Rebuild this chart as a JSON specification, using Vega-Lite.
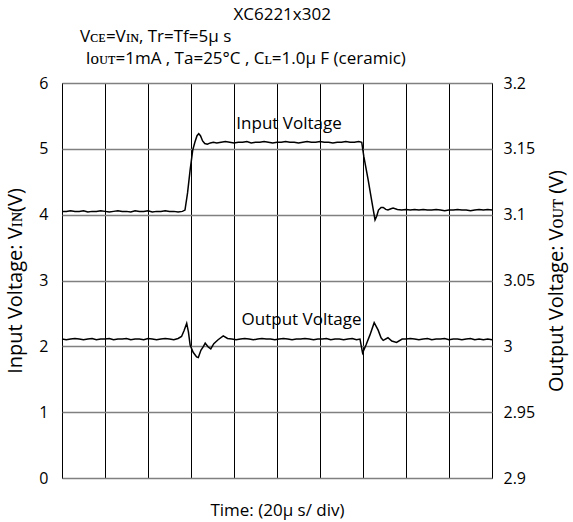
{
  "$schema": "https://vega.github.io/schema/vega-lite/v6.json",
  "width": 430,
  "height": 395,
  "autosize": {"type": "none"},
  "padding": {"left": 62, "top": 83, "right": 81, "bottom": 44},
  "background": "white",
  "config": {
    "font": "Open Sans",
    "view": {"stroke": "black", "strokeWidth": 1},
    "axis": {"labelFont": "Open Sans", "titleFont": "Open Sans", "labelFontSize": 16, "titleFontSize": 20, "titleFontWeight": "normal", "labelColor": "black", "titleColor": "black"}
  },
  "datasets": {
    "input": [
      {"t": 0.00, "v": 4.05}, {"t": 0.10, "v": 4.05}, {"t": 0.20, "v": 4.06}, {"t": 0.30, "v": 4.05}, {"t": 0.40, "v": 4.05},
      {"t": 0.50, "v": 4.06}, {"t": 0.60, "v": 4.04}, {"t": 0.70, "v": 4.05}, {"t": 0.80, "v": 4.05}, {"t": 0.90, "v": 4.06},
      {"t": 1.00, "v": 4.05}, {"t": 1.10, "v": 4.04}, {"t": 1.20, "v": 4.05}, {"t": 1.30, "v": 4.06}, {"t": 1.40, "v": 4.05},
      {"t": 1.50, "v": 4.05}, {"t": 1.60, "v": 4.04}, {"t": 1.70, "v": 4.06}, {"t": 1.80, "v": 4.05}, {"t": 1.90, "v": 4.05},
      {"t": 2.00, "v": 4.06}, {"t": 2.10, "v": 4.04}, {"t": 2.20, "v": 4.05}, {"t": 2.30, "v": 4.05}, {"t": 2.40, "v": 4.06},
      {"t": 2.50, "v": 4.05}, {"t": 2.60, "v": 4.05}, {"t": 2.70, "v": 4.04}, {"t": 2.80, "v": 4.05}, {"t": 2.86, "v": 4.07},
      {"t": 2.92, "v": 4.33}, {"t": 2.98, "v": 4.68}, {"t": 3.04, "v": 4.98}, {"t": 3.09, "v": 5.10}, {"t": 3.14, "v": 5.20},
      {"t": 3.18, "v": 5.23}, {"t": 3.22, "v": 5.20}, {"t": 3.27, "v": 5.12}, {"t": 3.32, "v": 5.08}, {"t": 3.38, "v": 5.07},
      {"t": 3.45, "v": 5.09}, {"t": 3.52, "v": 5.10}, {"t": 3.60, "v": 5.09}, {"t": 3.70, "v": 5.10}, {"t": 3.80, "v": 5.11},
      {"t": 3.90, "v": 5.10}, {"t": 4.00, "v": 5.09}, {"t": 4.10, "v": 5.10}, {"t": 4.20, "v": 5.10}, {"t": 4.30, "v": 5.11},
      {"t": 4.40, "v": 5.09}, {"t": 4.50, "v": 5.10}, {"t": 4.60, "v": 5.10}, {"t": 4.70, "v": 5.11}, {"t": 4.80, "v": 5.10},
      {"t": 4.90, "v": 5.09}, {"t": 5.00, "v": 5.10}, {"t": 5.10, "v": 5.10}, {"t": 5.20, "v": 5.11}, {"t": 5.30, "v": 5.10},
      {"t": 5.40, "v": 5.10}, {"t": 5.50, "v": 5.09}, {"t": 5.60, "v": 5.10}, {"t": 5.70, "v": 5.11}, {"t": 5.80, "v": 5.10},
      {"t": 5.90, "v": 5.10}, {"t": 6.00, "v": 5.11}, {"t": 6.10, "v": 5.10}, {"t": 6.20, "v": 5.10}, {"t": 6.30, "v": 5.09},
      {"t": 6.40, "v": 5.10}, {"t": 6.50, "v": 5.10}, {"t": 6.60, "v": 5.11}, {"t": 6.70, "v": 5.10}, {"t": 6.80, "v": 5.10},
      {"t": 6.90, "v": 5.11}, {"t": 6.97, "v": 5.10}, {"t": 7.02, "v": 4.88}, {"t": 7.12, "v": 4.53}, {"t": 7.20, "v": 4.22},
      {"t": 7.24, "v": 4.07}, {"t": 7.28, "v": 3.92}, {"t": 7.32, "v": 3.98}, {"t": 7.36, "v": 4.07}, {"t": 7.42, "v": 4.11},
      {"t": 7.47, "v": 4.11}, {"t": 7.53, "v": 4.08}, {"t": 7.58, "v": 4.07}, {"t": 7.65, "v": 4.09}, {"t": 7.70, "v": 4.10},
      {"t": 7.80, "v": 4.08}, {"t": 7.90, "v": 4.07}, {"t": 8.00, "v": 4.08}, {"t": 8.10, "v": 4.07}, {"t": 8.20, "v": 4.08},
      {"t": 8.30, "v": 4.07}, {"t": 8.40, "v": 4.08}, {"t": 8.50, "v": 4.07}, {"t": 8.60, "v": 4.07}, {"t": 8.70, "v": 4.08},
      {"t": 8.80, "v": 4.07}, {"t": 8.90, "v": 4.06}, {"t": 9.00, "v": 4.07}, {"t": 9.10, "v": 4.07}, {"t": 9.20, "v": 4.08},
      {"t": 9.30, "v": 4.07}, {"t": 9.40, "v": 4.07}, {"t": 9.50, "v": 4.06}, {"t": 9.60, "v": 4.07}, {"t": 9.70, "v": 4.08},
      {"t": 9.80, "v": 4.07}, {"t": 9.90, "v": 4.08}, {"t": 10.00, "v": 4.07}
    ],
    "output": [
      {"t": 0.00, "v": 3.0055}, {"t": 0.10, "v": 3.0050}, {"t": 0.20, "v": 3.0055}, {"t": 0.30, "v": 3.0060}, {"t": 0.40, "v": 3.0055},
      {"t": 0.50, "v": 3.0050}, {"t": 0.60, "v": 3.0055}, {"t": 0.70, "v": 3.0060}, {"t": 0.80, "v": 3.0050}, {"t": 0.90, "v": 3.0055},
      {"t": 1.00, "v": 3.0055}, {"t": 1.10, "v": 3.0060}, {"t": 1.20, "v": 3.0050}, {"t": 1.30, "v": 3.0055}, {"t": 1.40, "v": 3.0055},
      {"t": 1.50, "v": 3.0060}, {"t": 1.60, "v": 3.0050}, {"t": 1.70, "v": 3.0055}, {"t": 1.80, "v": 3.0055}, {"t": 1.90, "v": 3.0050},
      {"t": 2.00, "v": 3.0060}, {"t": 2.10, "v": 3.0055}, {"t": 2.20, "v": 3.0050}, {"t": 2.30, "v": 3.0055}, {"t": 2.40, "v": 3.0060},
      {"t": 2.50, "v": 3.0055}, {"t": 2.60, "v": 3.0050}, {"t": 2.70, "v": 3.0060}, {"t": 2.78, "v": 3.0075}, {"t": 2.84, "v": 3.0120},
      {"t": 2.90, "v": 3.0175}, {"t": 2.94, "v": 3.0110}, {"t": 2.98, "v": 3.0010}, {"t": 3.05, "v": 2.9955}, {"t": 3.13, "v": 2.9920},
      {"t": 3.17, "v": 2.9915}, {"t": 3.23, "v": 2.9970}, {"t": 3.29, "v": 3.0000}, {"t": 3.33, "v": 3.0025}, {"t": 3.40, "v": 2.9995},
      {"t": 3.46, "v": 2.9980}, {"t": 3.53, "v": 3.0020}, {"t": 3.63, "v": 3.0050}, {"t": 3.75, "v": 3.0080}, {"t": 3.85, "v": 3.0060},
      {"t": 3.95, "v": 3.0055}, {"t": 4.05, "v": 3.0050}, {"t": 4.15, "v": 3.0055}, {"t": 4.25, "v": 3.0060}, {"t": 4.35, "v": 3.0055},
      {"t": 4.45, "v": 3.0050}, {"t": 4.55, "v": 3.0055}, {"t": 4.65, "v": 3.0060}, {"t": 4.75, "v": 3.0055}, {"t": 4.85, "v": 3.0055},
      {"t": 4.95, "v": 3.0050}, {"t": 5.05, "v": 3.0055}, {"t": 5.15, "v": 3.0060}, {"t": 5.25, "v": 3.0055}, {"t": 5.35, "v": 3.0050},
      {"t": 5.45, "v": 3.0055}, {"t": 5.55, "v": 3.0055}, {"t": 5.65, "v": 3.0060}, {"t": 5.75, "v": 3.0055}, {"t": 5.85, "v": 3.0050},
      {"t": 5.95, "v": 3.0055}, {"t": 6.05, "v": 3.0055}, {"t": 6.15, "v": 3.0060}, {"t": 6.25, "v": 3.0050}, {"t": 6.35, "v": 3.0055},
      {"t": 6.45, "v": 3.0055}, {"t": 6.55, "v": 3.0050}, {"t": 6.65, "v": 3.0055}, {"t": 6.75, "v": 3.0060}, {"t": 6.85, "v": 3.0050},
      {"t": 6.93, "v": 3.0055}, {"t": 6.99, "v": 2.9950}, {"t": 7.07, "v": 3.0010}, {"t": 7.16, "v": 3.0085}, {"t": 7.26, "v": 3.0180},
      {"t": 7.35, "v": 3.0125}, {"t": 7.42, "v": 3.0065}, {"t": 7.47, "v": 3.0045}, {"t": 7.58, "v": 3.0065}, {"t": 7.67, "v": 3.0040},
      {"t": 7.78, "v": 3.0030}, {"t": 7.91, "v": 3.0055}, {"t": 8.00, "v": 3.0055}, {"t": 8.10, "v": 3.0060}, {"t": 8.20, "v": 3.0055},
      {"t": 8.30, "v": 3.0050}, {"t": 8.40, "v": 3.0055}, {"t": 8.50, "v": 3.0060}, {"t": 8.60, "v": 3.0050}, {"t": 8.70, "v": 3.0055},
      {"t": 8.80, "v": 3.0055}, {"t": 8.90, "v": 3.0060}, {"t": 9.00, "v": 3.0050}, {"t": 9.10, "v": 3.0055}, {"t": 9.20, "v": 3.0055},
      {"t": 9.30, "v": 3.0050}, {"t": 9.40, "v": 3.0055}, {"t": 9.50, "v": 3.0060}, {"t": 9.60, "v": 3.0050}, {"t": 9.70, "v": 3.0055},
      {"t": 9.80, "v": 3.0050}, {"t": 9.90, "v": 3.0055}, {"t": 10.00, "v": 3.0050}
    ],
    "curveLabels": [
      {"t": 5.28, "v": 5.38, "label": "Input Voltage"},
      {"t": 5.57, "v": 2.40, "label": "Output Voltage"}
    ],
    "heading": [
      {"t": 5.12, "v": 7.04, "label": "XC6221x302"}
    ],
    "notes": [
      {"t": 0.42, "v": 6.70, "label": "Vᴄᴇ=Vɪɴ, Tr=Tf=5μ  s"},
      {"t": 0.55, "v": 6.37, "label": "Iᴏᴜᴛ=1mA , Ta=25°C , Cʟ=1.0μ  F (ceramic)"}
    ]
  },
  "layer": [
    {
      "data": {"name": "input"},
      "mark": {"type": "line", "color": "black", "strokeWidth": 1.5},
      "encoding": {
        "x": {"field": "t", "type": "quantitative", "scale": {"domain": [0, 10], "nice": false},
          "axis": {"values": [0, 1, 2, 3, 4, 5, 6, 7, 8, 9, 10], "grid": true, "gridColor": "black", "gridOpacity": 1, "gridWidth": 1,
            "labels": false, "ticks": false, "domain": false, "title": "Time: (20μ s/ div)", "titlePadding": 24, "titleFontSize": 17}},
        "y": {"field": "v", "type": "quantitative", "scale": {"domain": [0, 6], "nice": false},
          "axis": {"orient": "left", "values": [0, 1, 2, 3, 4, 5, 6], "grid": true, "gridColor": "#808080", "gridOpacity": 1, "gridWidth": 1.5,
            "ticks": false, "domain": false, "labelPadding": 14, "title": "Input Voltage: Vɪɴ(V)", "titlePadding": 13}}
      }
    },
    {
      "data": {"name": "output"},
      "mark": {"type": "line", "color": "black", "strokeWidth": 1.5},
      "encoding": {
        "x": {"field": "t", "type": "quantitative"},
        "y": {"field": "v", "type": "quantitative", "scale": {"domain": [2.9, 3.2], "nice": false, "zero": false},
          "axis": {"orient": "right", "values": [2.9, 2.95, 3.0, 3.05, 3.1, 3.15, 3.2], "format": "~g", "grid": false,
            "ticks": false, "domain": false, "labelPadding": 11, "title": "Output Voltage: Vᴏᴜᴛ (V)", "titleAngle": 270, "titleBaseline": "top", "titlePadding": 12}}
      }
    },
    {
      "data": {"name": "curveLabels"},
      "mark": {"type": "text", "fontSize": 17, "color": "black", "align": "center", "baseline": "middle"},
      "encoding": {
        "x": {"field": "t", "type": "quantitative"},
        "y": {"field": "v", "type": "quantitative", "scale": {"domain": [0, 6], "nice": false}, "axis": null},
        "text": {"field": "label"}
      }
    },
    {
      "data": {"name": "heading"},
      "mark": {"type": "text", "fontSize": 17, "color": "black", "align": "center", "baseline": "middle"},
      "encoding": {
        "x": {"field": "t", "type": "quantitative"},
        "y": {"field": "v", "type": "quantitative", "scale": {"domain": [0, 6], "nice": false}, "axis": null},
        "text": {"field": "label"}
      }
    },
    {
      "data": {"name": "notes"},
      "mark": {"type": "text", "fontSize": 17, "color": "black", "align": "left", "baseline": "middle"},
      "encoding": {
        "x": {"field": "t", "type": "quantitative"},
        "y": {"field": "v", "type": "quantitative", "scale": {"domain": [0, 6], "nice": false}, "axis": null},
        "text": {"field": "label"}
      }
    }
  ],
  "resolve": {"scale": {"y": "independent"}}
}
